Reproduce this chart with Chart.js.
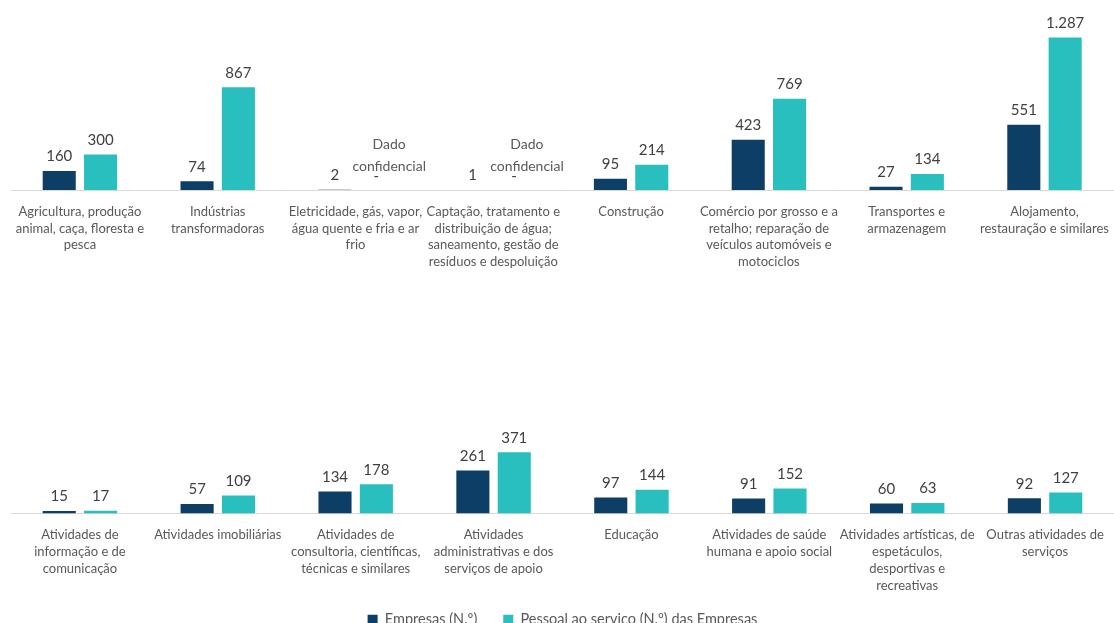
<!DOCTYPE html>
<html>
<head>
<meta charset="utf-8">
<script src="https://cdn.jsdelivr.net/npm/chart.js@4"></script>
<style>
  body { margin: 0; background: #fff; width: 1114px; height: 623px; overflow: hidden; position: relative; }
  #graficoTopo { position: absolute; left: 0; top: 0; }
  #graficoBase { position: absolute; left: 0; top: 290px; }
</style>
</head>
<body>
<canvas id="graficoTopo" width="1114" height="285"></canvas>
<canvas id="graficoBase" width="1114" height="352"></canvas>
<script>
const categoriasTopo = [
  ["Agricultura, produção", "animal, caça, floresta e", "pesca"],
  ["Indústrias", "transformadoras"],
  ["Eletricidade, gás, vapor,", "água quente e fria e ar", "frio"],
  ["Captação, tratamento e", "distribuição de água;", "saneamento, gestão de", "resíduos e despoluição"],
  ["Construção"],
  ["Comércio por grosso e a", "retalho; reparação de", "veículos automóveis e", "motociclos"],
  ["Transportes e", "armazenagem"],
  ["Alojamento,", "restauração e similares"],
];
const empresasTopo = [160, 74, 2, 1, 95, 423, 27, 551];
const pessoalTopo = [300, 867, null, null, 214, 769, 134, 1287];

const categoriasBase = [
  ["Atividades de", "informação e de", "comunicação"],
  ["Atividades imobiliárias"],
  ["Atividades de", "consultoria, científicas,", "técnicas e similares"],
  ["Atividades", "administrativas e dos", "serviços de apoio"],
  ["Educação"],
  ["Atividades de saúde", "humana e apoio social"],
  ["Atividades artísticas, de", "espetáculos,", "desportivas e", "recreativas"],
  ["Outras atividades de", "serviços"],
];
const empresasBase = [15, 57, 134, 261, 97, 91, 60, 92];
const pessoalBase = [17, 109, 178, 371, 144, 152, 63, 127];

const series = ["Empresas (N.º)", "Pessoal ao serviço (N.º) das Empresas"];
const textoConfidencial = ["Dado", "confidencial"];

const corEscura = "#0d3f66";
const corTeal = "#2abfbf";
const fonte = "Lato, 'Open Sans', sans-serif";

function formatar(v) {
  return v.toString().replace(/\B(?=(\d{3})+(?!\d))/g, ".");
}

// desenha os valores por cima das barras (e o "Dado confidencial")
const rotulos = {
  id: "rotulos",
  afterDatasetsDraw(chart) {
    const ctx = chart.ctx;
    const escX = chart.scales.x;
    const escY = chart.scales.y;
    ctx.save();
    ctx.textAlign = "center";
    ctx.textBaseline = "bottom";
    chart.data.datasets.forEach((ds, d) => {
      const meta = chart.getDatasetMeta(d);
      ds.data.forEach((v, i) => {
        const centro = escX.getPixelForValue(i);
        const escuro = chart.getDatasetMeta(0).data[i];
        const x = d === 0 ? escuro.x : centro + (centro - escuro.x);
        ctx.font = "15px " + fonte;
        ctx.fillStyle = "#404040";
        if (v === null) {
          const base = escY.getPixelForValue(0);
          ctx.fillText("-", x, base - 6);
          ctx.font = "14px " + fonte;
          ctx.fillStyle = "#595959";
          ctx.fillText(textoConfidencial[0], x + 13, base - 39);
          ctx.fillText(textoConfidencial[1], x + 13, base - 17);
          return;
        }
        const barra = meta.data[i];
        ctx.fillText(formatar(v), x, barra.y - 7);
      });
    });
    ctx.restore();
  },
};

// sobe um pouco a legenda, sem roubar altura aos rótulos do eixo
const subirLegenda = {
  id: "subirLegenda",
  afterLayout(chart) {
    if (chart.legend && chart.options.plugins.legend.display) {
      chart.legend.top -= 5;
      chart.legend.bottom -= 5;
    }
  },
};

function opcoes(maxY, altEixo, padTopo, legenda) {
  return {
    responsive: false,
    animation: false,
    layout: { padding: { left: 11, right: 0, top: padTopo, bottom: 0 } },
    plugins: {
      tooltip: { enabled: false },
      legend: {
        display: legenda,
        position: "bottom",
        labels: {
          boxWidth: 10,
          boxHeight: 10,
          padding: 26,
          color: "#595959",
          font: { family: fonte, size: 14.5 },
        },
      },
    },
    scales: {
      x: {
        grid: { display: false },
        border: { display: true, color: "#d9d9d9", width: 1 },
        ticks: {
          maxRotation: 0,
          autoSkip: false,
          padding: 5,
          color: "#595959",
          font: { family: fonte, size: 13, lineHeight: 1.3 },
        },
        afterFit(eixo) { eixo.height = altEixo; },
      },
      y: { display: false, min: 0, max: maxY },
    },
  };
}

function conjuntos(a, b) {
  return [
    { label: series[0], data: a, backgroundColor: corEscura, categoryPercentage: 0.6, barPercentage: 0.8 },
    { label: series[1], data: b, backgroundColor: corTeal, categoryPercentage: 0.6, barPercentage: 0.8 },
  ];
}

new Chart(document.getElementById("graficoTopo"), {
  type: "bar",
  data: { labels: categoriasTopo, datasets: conjuntos(empresasTopo, pessoalTopo) },
  options: opcoes(1400, 95, 24, false),
  plugins: [rotulos],
});

new Chart(document.getElementById("graficoBase"), {
  type: "bar",
  data: { labels: categoriasBase, datasets: conjuntos(empresasBase, pessoalBase) },
  options: opcoes(1235, 78, 20, true),
  plugins: [rotulos, subirLegenda],
});
</script>
</body>
</html>
